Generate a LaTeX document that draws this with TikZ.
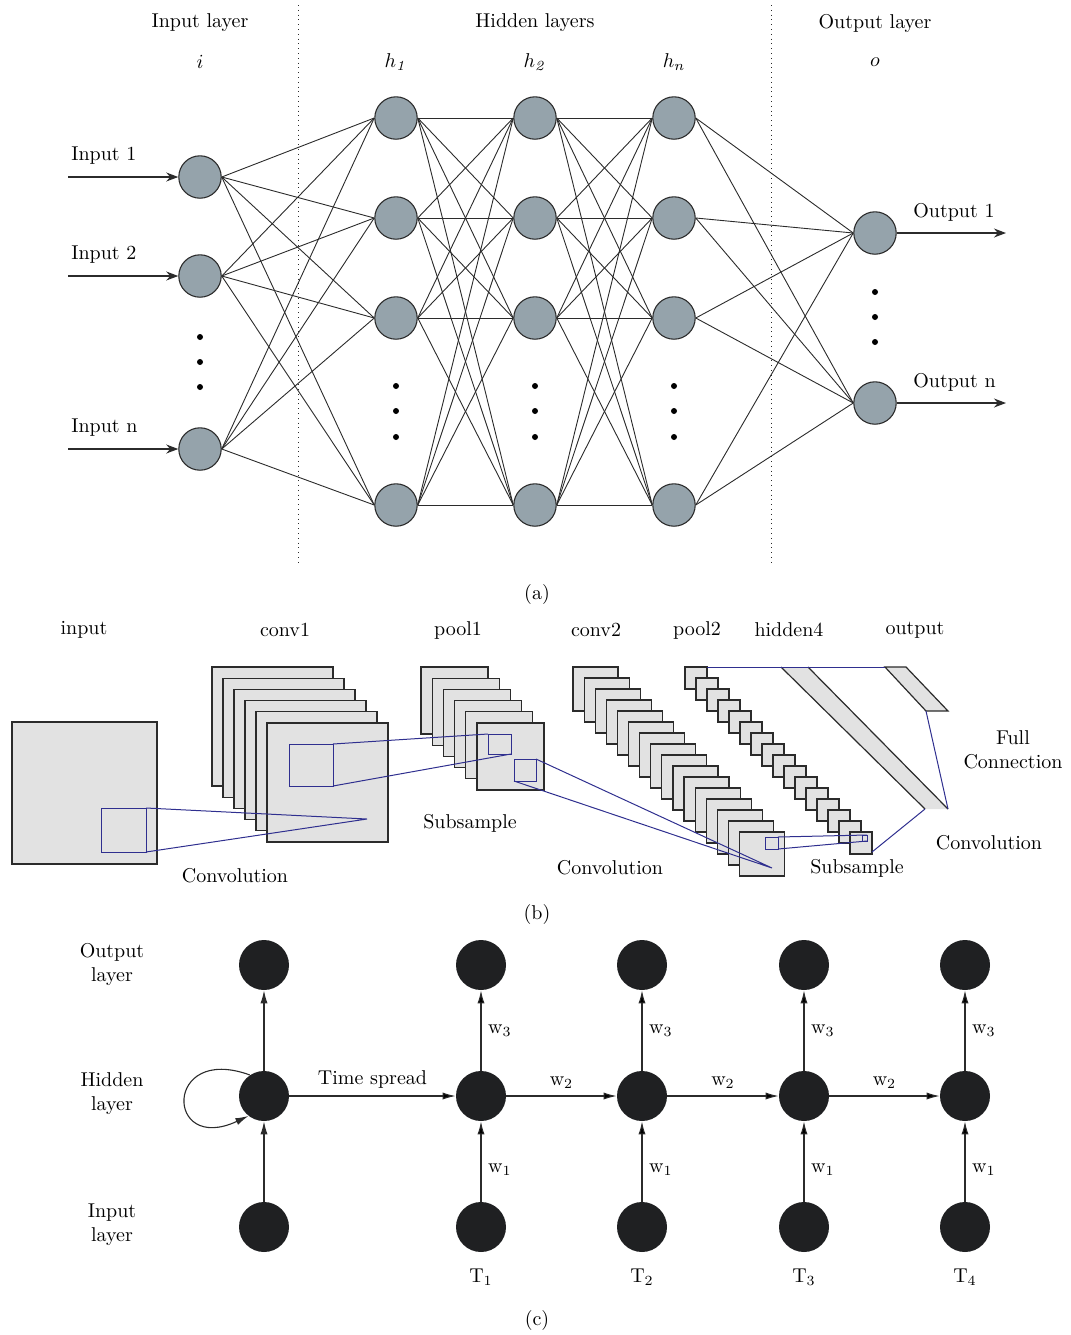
\documentclass[tikz,border=0pt]{standalone}
\usetikzlibrary{arrows.meta,positioning}
\definecolor{neuronColor}{HTML}{95A3AB}
\definecolor{rimColor}{HTML}{2B2B2B}
\definecolor{mapColor}{HTML}{E2E2E2}
\definecolor{kernelColor}{HTML}{2F2F8F}
\definecolor{unitColor}{HTML}{1F2022}
\tikzset{
	neuron/.style={circle, draw=rimColor, fill=neuronColor, minimum size=21.2pt, inner sep=0, line width=0.55pt},
	unit/.style={circle, fill=unitColor, minimum size=25pt, inner sep=0},
	wire/.style={draw=rimColor, line width=0.45pt},
	fmap/.style={draw=rimColor, fill=mapColor, line width=0.6pt},
	kernel/.style={draw=kernelColor, line width=0.5pt},
	dotpt/.style={circle, fill=black, inner sep=0, minimum size=3pt},
	sep line/.style={draw=rimColor, line width=0.4pt, dotted},
	io arrow/.style={draw=rimColor, line width=0.55pt, -{Stealth[length=6pt,width=4.5pt]}},
	flow/.style={draw=rimColor, line width=0.55pt, -{Latex[length=6.5pt,width=3.6pt]}}
}
\newcommand{\wt}[1]{$\mathrm{w}_{#1}$}
\begin{document}
\begin{tikzpicture}[x=0.5pt, y=-0.5pt]
	\useasboundingbox (0,0) rectangle (1071,1335);
	% (a) feed-forward network
	\node (ttl_in) at (200,23) {Input layer};
	\node (ttl_hid) at (535,23) {Hidden layers};
	\node (ttl_out) at (875,23) {Output layer};
	\node (sym_i) at (200,62) {$i$};
	\node (sym_h1) at (396,62) {$h_{\mathit{1}}$};
	\node (sym_h2) at (535,62) {$h_{\mathit{2}}$};
	\node (sym_hn) at (674,62) {$h_{n}$};
	\node (sym_o) at (875,62) {$o$};
	\draw[sep line] (298,5) -- (298,566);
	\draw[sep line] (771,5) -- (771,566);
	\foreach \r/\y in {1/177, 2/276, 3/449}
		\node[neuron] (i\r) at (200,\y) {};
	\foreach \l/\x in {1/396, 2/535, 3/674}
		\foreach \r/\y in {1/118, 2/218, 3/318, 4/505}
			\node[neuron] (h\l\r) at (\x,\y) {};
	\node[neuron] (o1) at (875,233) {};
	\node[neuron] (o2) at (875,403) {};
	\foreach \a in {1,2,3}
		\foreach \b in {1,...,4}
			\draw[wire] (i\a.east) -- (h1\b.west);
	\foreach \l/\m in {1/2, 2/3}
		\foreach \a in {1,...,4}
			\foreach \b in {1,...,4}
				\draw[wire] (h\l\a.east) -- (h\m\b.west);
	\foreach \a in {1,...,4}
		\foreach \b in {1,2}
			\draw[wire] (h3\a.east) -- (o\b.west);
	\foreach \y in {337,362,387}
		\node[dotpt] at (200,\y) {};
	\foreach \x in {396,535,674}
		\foreach \y in {386,411,437}
			\node[dotpt] at (\x,\y) {};
	\foreach \y in {292,317,342}
		\node[dotpt] at (875,\y) {};
	\coordinate (src1) at (68,177);
	\coordinate (src2) at (68,276);
	\coordinate (src3) at (68,449);
	\coordinate (dst1) at (1006,233);
	\coordinate (dst2) at (1006,403);
	\foreach \r in {1,2,3}
		\draw[io arrow] (src\r) -- (i\r);
	\foreach \r in {1,2}
		\draw[io arrow] (o\r) -- (dst\r);
	\node[anchor=west, inner sep=0] (lbl_in1) at (71,156) {Input 1};
	\node[anchor=west, inner sep=0] (lbl_in2) at (71,255) {Input 2};
	\node[anchor=west, inner sep=0] (lbl_in3) at (71,428) {Input n};
	\node[anchor=west, inner sep=0] (lbl_out1) at (913,212) {Output 1};
	\node[anchor=west, inner sep=0] (lbl_out2) at (913,382) {Output n};
	\node (cap_a) at (537,594) {(a)};
	% (b) convolutional network
	\node (ttl_input) at (84,630) {input};
	\node (ttl_conv1) at (285,630) {conv1};
	\node (ttl_pool1) at (458,630) {pool1};
	\node (ttl_conv2) at (596,630) {conv2};
	\node (ttl_pool2) at (697,630) {pool2};
	\node (ttl_hidden4) at (789,630) {hidden4};
	\node (ttl_output) at (915,630) {output};
	\filldraw[fmap] (12,722) rectangle (157,864);
	\foreach \k in {0,...,5}
		\filldraw[fmap] (212+11*\k,667+11.2*\k) rectangle +(121,119);
	\foreach \k in {0,...,5}
		\filldraw[fmap] (421+11.2*\k,667+11.2*\k) rectangle +(67,67);
	\foreach \k in {0,...,15}
		\filldraw[fmap] (573+11.1*\k,667+11*\k) rectangle +(45,44);
	\foreach \k in {0,...,15}
		\filldraw[fmap] (685+11*\k,667+11*\k) rectangle +(22,22);
	\fill[mapColor] (781,667) -- (808,667) -- (948,809) -- (925,809) -- cycle;
	\draw[fmap] (781,667) -- (925,809) (808,667) -- (948,809);
	\filldraw[fmap] (885,667) -- (906,667) -- (948,711) -- (926,711) -- cycle;
	\draw[kernel] (101,808) rectangle (146,852);
	\draw[kernel] (146,808) -- (367,819) -- (146,852);
	\draw[kernel] (289,744) rectangle (333,786);
	\draw[kernel] (488,734) rectangle (511,754);
	\draw[kernel] (333,744) -- (488,734) (333,786) -- (511,754);
	\draw[kernel] (514,759) rectangle (536,781);
	\draw[kernel] (536,759) -- (772,868) -- (514,781);
	\draw[kernel] (765,837) rectangle (778,849);
	\draw[kernel] (862,835) rectangle (867,841);
	\draw[kernel] (778,837) -- (867,835) (778,849) -- (867,841);
	\draw[kernel] (707,667) -- (885,667);
	\draw[kernel] (926,711) -- (948,809);
	\draw[kernel] (925,809) -- (872,852);
	\node (lbl_conv_a) at (235,876) {Convolution};
	\node (lbl_sub_a) at (470,823) {Subsample};
	\node (lbl_conv_b) at (610,868) {Convolution};
	\node (lbl_sub_b) at (857,868) {Subsample};
	\node (lbl_conv_c) at (989,843) {Convolution};
	\node[align=center] (lbl_full) at (1013,750) {Full\\Connection};
	\node (cap_b) at (537,914) {(b)};
	% (c) recurrent network unrolled in time
	\node[align=center] (row_out) at (112,964) {Output\\layer};
	\node[align=center] (row_hid) at (112,1094) {Hidden\\layer};
	\node[align=center] (row_in) at (112,1225) {Input\\layer};
	\foreach \c/\x in {0/264, 1/481, 2/642, 3/804, 4/965} {
		\node[unit] (y\c) at (\x,965) {};
		\node[unit] (s\c) at (\x,1096) {};
		\node[unit] (x\c) at (\x,1227) {};
	}
	\draw[flow] (x0) -- (s0);
	\draw[flow] (s0) -- (y0);
	\draw[flow] (s0.124) to[out=160, in=205, distance=46pt] (s0.232);
	\path[flow] (s0) edge node[above] {Time spread} (s1);
	\foreach \c/\x in {1/481, 2/642, 3/804, 4/965} {
		\path[flow] (x\c) edge node[right, pos=0.4] {\wt{1}} (s\c);
		\path[flow] (s\c) edge node[right, pos=0.5] {\wt{3}} (y\c);
		\node (tt\c) at (\x,1277) {$\mathrm{T}_{\c}$};
	}
	\foreach \a/\b in {1/2, 2/3, 3/4}
		\path[flow] (s\a) edge node[above] {\wt{2}} (s\b);
	\node (cap_c) at (537,1320) {(c)};
\end{tikzpicture}
\end{document}
